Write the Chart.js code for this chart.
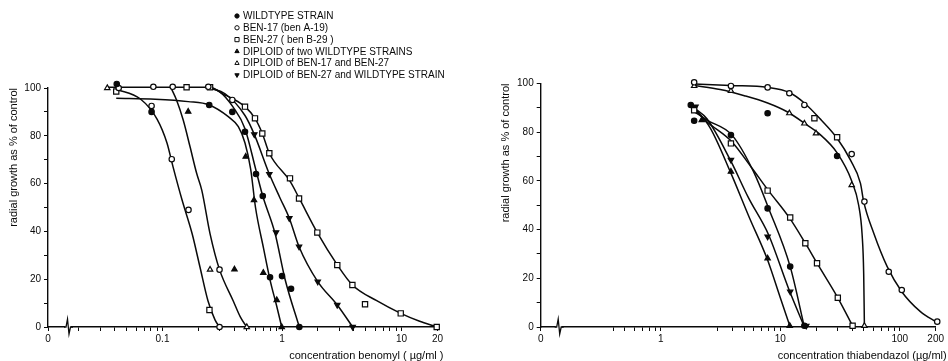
<!DOCTYPE html>
<html lang="en">
<head>
<meta charset="UTF-8">
<title>Radial growth on benomyl and thiabendazol</title>
<script src="https://cdn.jsdelivr.net/npm/chart.js@4"></script>
<style>
  body { margin: 0; background: #fff; }
  canvas { position: absolute; top: 0; }
  #benomylChart { left: 0; }
  #thiabendazolChart { left: 474px; }
</style>
</head>
<body>
<canvas id="benomylChart" width="474" height="361"></canvas>
<canvas id="thiabendazolChart" width="474" height="361"></canvas>
<script>
// strains, in key order
const strainLabels = [
  "WILDTYPE STRAIN",
  "BEN-17 (ben A-19)",
  "BEN-27 ( ben B-29 )",
  "DIPLOID of two WILDTYPE STRAINS",
  "DIPLOID of BEN-17 and BEN-27",
  "DIPLOID of BEN-27 and WILDTYPE STRAIN",
];

// benomyl, measured points: [µg/ml, radial growth % of control]
const benWildtype = [[0.0414, 101.7], [0.081, 90], [0.246, 92.9], [0.384, 90], [0.49, 81.7], [0.606, 64], [0.69, 54.8], [0.794, 20.8], [1.0, 21.3], [1.19, 16], [1.396, 0]];
const benBen17 = [[0.043, 100], [0.081, 92.5], [0.0838, 100.5], [0.1195, 70.2], [0.1217, 100.5], [0.165, 49], [0.2416, 100.5], [0.30, 24], [0.30, 0], [0.384, 95]];
const benBen27 = [[0.041, 98.5], [0.159, 100.3], [0.247, 7.1], [0.25, 100.3], [0.49, 92.2], [0.594, 87.3], [0.684, 81], [0.783, 72.7], [1.166, 62.2], [1.388, 53.8], [1.974, 39.5], [2.9, 25.9], [3.88, 17.6], [4.95, 9.5], [9.85, 5.7], [19.7, 0]];
const benDiploidWild = [[0.164, 90.1], [0.40, 24.1], [0.497, 71.3], [0.583, 53.1], [0.697, 22.7], [0.903, 11.3], [0.994, 0]];
const benDiploid1727 = [[0.0345, 100], [0.25, 24], [0.507, 0]];
const benDiploid27Wild = [[0.586, 80.6], [0.783, 64], [0.891, 39.6], [1.151, 45.5], [1.388, 33.6], [1.99, 19], [2.9, 9.2], [3.9, 0]];

// benomyl, hand-drawn curves
const benCurveWildtype = [[0.25, 100], [0.3, 98.5], [0.39, 92], [0.49, 83], [0.606, 65.5], [0.69, 54.8], [0.874, 39.2], [1.06, 20], [1.396, 0]];
const benCurveBen17 = [[0.041, 99.5], [0.065, 95.5], [0.09, 87], [0.109, 77], [0.1225, 67], [0.146, 53], [0.177, 39], [0.206, 25], [0.24, 11], [0.275, 3], [0.30, 0]];
const benCurveBen27 = [[0.035, 100.3], [0.25, 100.3], [0.32, 97.5], [0.38, 95.7], [0.49, 92.2], [0.594, 87.3], [0.684, 81], [0.783, 72.7], [1.166, 61], [1.388, 54], [1.974, 39.5], [2.9, 26], [3.88, 17.6], [6.2, 11], [9.85, 5.7], [14, 2.5], [19.7, 0]];
const benCurveDiploidWild = [[0.041, 95.7], [0.087, 95.3], [0.164, 94.3], [0.246, 92.9], [0.355, 88], [0.431, 83.8], [0.49, 77], [0.547, 66], [0.6, 50], [0.7, 33], [0.8, 19], [0.9, 9], [0.994, 0]];
const benCurveDiploid1727 = [[0.118, 100], [0.131, 95], [0.149, 86.6], [0.17, 75.4], [0.193, 64.3], [0.213, 57.3], [0.25, 39], [0.30, 24], [0.39, 11], [0.45, 4], [0.507, 0]];
const benCurveDiploid27Wild = [[0.25, 100], [0.334, 97.6], [0.49, 88.5], [0.586, 80.6], [0.783, 64], [0.962, 54], [1.151, 45.5], [1.388, 33.6], [1.99, 19], [2.9, 9.2], [3.9, 0]];

// thiabendazol, measured points
const thiWildtype = [[1.78, 91.2], [1.9, 84.7], [3.86, 78.8], [7.83, 87.8], [7.83, 48.7], [12.1, 24.8], [15.9, 0.5], [29.9, 70.2]];
const thiBen17 = [[1.9, 100.5], [3.86, 99], [7.83, 98.4], [11.9, 96], [15.9, 91.2], [39.6, 71], [50.6, 51.5], [80.9, 22.7], [104, 15.2], [206, 2.2]];
const thiBen27 = [[1.9, 89], [3.86, 75.4], [7.83, 56], [12.1, 45], [16.2, 34.4], [19.3, 85.7], [20.3, 26.2], [29.9, 77.9], [30.3, 12], [40.3, 0.5]];
const thiDiploidWild = [[2.2, 85], [3.86, 63.8], [7.83, 28.2], [12, 0.5]];
const thiDiploid1727 = [[1.9, 99], [3.86, 97], [11.9, 87.8], [15.9, 83.6], [19.9, 79.5], [39.6, 58.3], [50.6, 0.5]];
const thiDiploid27Wild = [[1.95, 90.5], [3.86, 68.6], [7.83, 37.1], [12.1, 14.5], [16.5, 0.5]];

// thiabendazol, hand-drawn curves
const thiCurveWildtype = [[1.9, 88.5], [2.43, 85], [3.94, 78.8], [5.97, 63.8], [7.99, 48.7], [12.1, 24.8], [15.9, 0]];
const thiCurveBen17 = [[1.9, 99.8], [3.86, 99.2], [7.83, 98.4], [11.9, 96.3], [15.9, 92], [22, 85], [29.9, 77.5], [38.6, 68.6], [46.9, 59], [49.9, 51.5], [60.6, 38.5], [78.5, 24.8], [104, 14.5], [149, 6.3], [206, 1.8]];
const thiCurveBen27 = [[1.9, 89.5], [2.43, 84.3], [3.94, 76], [5.8, 65.2], [7.99, 55.9], [11.9, 44.9], [16.2, 34.4], [20.3, 26.2], [30.3, 12], [40.3, 0.5]];
const thiCurveDiploidWild = [[1.9, 90], [2.6, 81.6], [3.81, 63.8], [5.5, 45], [7.73, 28.2], [10, 12], [12.1, 0]];
const thiCurveDiploid1727 = [[1.9, 99.2], [3.14, 97.5], [5, 95], [7.83, 92], [11.4, 88.4], [16.7, 83], [21, 79.5], [29.9, 71.5], [39.6, 60], [45.3, 50], [48.4, 38], [49.9, 22], [50.6, 0]];
const thiCurveDiploid27Wild = [[1.9, 90], [2.43, 85.5], [3.81, 68.6], [5.42, 53], [7.99, 37.8], [11.7, 15.9], [15.9, 0]];

// log axes: tick marks and labelled ticks ("0" sits at the axis break)
const benTicks = [0.02, 0.03, 0.04, 0.05, 0.06, 0.07, 0.08, 0.09, 0.1, 0.2, 0.3, 0.4, 0.5, 0.6, 0.7, 0.8, 0.9, 1, 2, 3, 4, 5, 6, 7, 8, 9, 10, 20];
const benLabelValues = [0.1, 1, 10, 20];
const benLabelTexts = ["0.1", "1", "10", "20"];
const thiTicks = [0.4, 0.5, 0.6, 0.7, 0.8, 0.9, 1, 3, 4, 5, 6, 7, 8, 9, 10, 20, 30, 40, 50, 60, 70, 80, 90, 100, 200];
const thiLabelValues = [1, 10, 100, 200];
const thiLabelTexts = ["1", "10", "100", "200"];

const BLACK = "#0a0a0a";
const FONT = "'Liberation Sans', Arial, sans-serif";
Chart.defaults.font.family = FONT;
Chart.defaults.color = BLACK;

// marker look per strain, same order as strainLabels
const markerLook = [
  { style: "circle", fill: BLACK, r: 2.7, rot: 0 },
  { style: "circle", fill: "#fff", r: 2.7, rot: 0 },
  { style: "rect", fill: "#fff", r: 3.7, rot: 0 },
  { style: "triangle", fill: BLACK, r: 3.1, rot: 0 },
  { style: "triangle", fill: "#fff", r: 3.1, rot: 0 },
  { style: "triangle", fill: BLACK, r: 3.1, rot: 180 },
];

const toXY = pairs => pairs.map(([x, y]) => ({ x, y }));

function curveSet(pairs) {
  return {
    data: toXY(pairs),
    borderColor: BLACK,
    borderWidth: 1.5,
    pointRadius: 0,
    cubicInterpolationMode: "monotone",
    fill: false,
    clip: false,
    order: 1,
  };
}

function markerSet(pairs, i) {
  const m = markerLook[i];
  return {
    label: strainLabels[i],
    data: toXY(pairs),
    showLine: false,
    pointStyle: m.style,
    pointRotation: m.rot,
    pointRadius: m.r,
    pointBackgroundColor: m.fill,
    pointBorderColor: BLACK,
    pointBorderWidth: 1.2,
    clip: false,
    order: 0,
  };
}

// axis break squiggle, x-axis title and (left panel only) the strain key
const panelDecor = {
  id: "panelDecor",
  afterDraw(chart, args, opts) {
    const { ctx, chartArea } = chart;
    const y = chartArea.bottom;
    const bx = chartArea.left + opts.breakOffset;
    ctx.save();
    ctx.fillStyle = "#fff";
    ctx.fillRect(bx - 3, y - 2, 6, 4);
    ctx.strokeStyle = BLACK;
    ctx.lineWidth = 1.3;
    ctx.beginPath();
    ctx.moveTo(bx - 4, y);
    ctx.lineTo(bx - 2, y);
    ctx.lineTo(bx - 0.5, y - 8);
    ctx.lineTo(bx + 1, y + 7);
    ctx.lineTo(bx + 2.5, y);
    ctx.lineTo(bx + 5, y);
    ctx.stroke();

    ctx.fillStyle = BLACK;
    ctx.font = "11px " + FONT;
    ctx.textAlign = "right";
    ctx.textBaseline = "middle";
    ctx.fillText(opts.title, chartArea.right + opts.titleShift, chart.height - 5);

    if (opts.key) {
      ctx.font = "10px " + FONT;
      ctx.textAlign = "left";
      const sets = chart.data.datasets.filter(d => d.label);
      sets.forEach((d, i) => {
        const ky = opts.key.top + i * opts.key.gap;
        ctx.fillStyle = d.pointBackgroundColor;
        ctx.strokeStyle = BLACK;
        ctx.lineWidth = 1;
        Chart.helpers.drawPoint(ctx, {
          pointStyle: d.pointStyle,
          rotation: d.pointRotation,
          radius: d.pointRadius * 0.8,
          borderWidth: 1,
        }, opts.key.left, ky);
        ctx.fillStyle = BLACK;
        ctx.fillText(d.label, opts.key.left + 6, ky + 0.5);
      });
    }
    ctx.restore();
  },
};

function makeScales(xMin, xMax, ticks, labelValues, labelTexts) {
  return {
    x: {
      type: "logarithmic",
      min: xMin,
      max: xMax,
      afterBuildTicks: s => { s.ticks = [xMin, ...ticks].map(v => ({ value: v })); },
      afterFit: s => { s.height = 34; },
      ticks: {
        autoSkip: false,
        maxRotation: 0,
        padding: 2,
        color: BLACK,
        font: { size: 10 },
        callback: v => {
          if (v === xMin) return "0";
          const k = labelValues.indexOf(v);
          return k >= 0 ? labelTexts[k] : "";
        },
      },
      grid: { drawOnChartArea: false, tickLength: 4, color: BLACK, tickColor: BLACK, tickWidth: 1 },
      border: { color: BLACK, width: 1.4 },
    },
    y: {
      min: 0,
      max: 100,
      afterFit: s => { s.width = 48; },
      ticks: {
        stepSize: 10,
        autoSkip: false,
        padding: 3,
        color: BLACK,
        font: { size: 10 },
        callback: v => (v % 20 === 0 ? v : ""),
      },
      grid: { drawOnChartArea: false, tickLength: 4, color: BLACK, tickColor: BLACK, tickWidth: 1 },
      border: { color: BLACK, width: 1.4 },
      title: {
        display: true,
        text: "radial growth as % of control",
        align: "end",
        color: BLACK,
        font: { size: 11 },
        padding: { top: 7, bottom: 0 },
      },
    },
  };
}

function makeChart(id, markers, curves, axis, decor, padding) {
  return new Chart(document.getElementById(id), {
    type: "line",
    data: {
      datasets: [
        ...markers.map((pairs, i) => markerSet(pairs, i)),
        ...curves.map(curveSet),
      ],
    },
    options: {
      responsive: false,
      animation: false,
      devicePixelRatio: 1,
      layout: { padding },
      scales: makeScales(...axis),
      plugins: {
        legend: { display: false },
        tooltip: { enabled: false },
        panelDecor: decor,
      },
    },
    plugins: [panelDecor],
  });
}

makeChart(
  "benomylChart",
  [benWildtype, benBen17, benBen27, benDiploidWild, benDiploid1727, benDiploid27Wild],
  [benCurveWildtype, benCurveBen17, benCurveBen27, benCurveDiploidWild, benCurveDiploid1727, benCurveDiploid27Wild],
  [0.01101, 20, benTicks, benLabelValues, benLabelTexts],
  {
    breakOffset: 20,
    title: "concentration benomyl ( µg/ml )",
    titleShift: 6,
    key: { left: 237, top: 16, gap: 11.8 },
  },
  { left: 0, right: 36.5, top: 88, bottom: 0 }
);

makeChart(
  "thiabendazolChart",
  [thiWildtype, thiBen17, thiBen27, thiDiploidWild, thiDiploid1727, thiDiploid27Wild],
  [thiCurveWildtype, thiCurveBen17, thiCurveBen27, thiCurveDiploidWild, thiCurveDiploid1727, thiCurveDiploid27Wild],
  [0.0986, 200, thiTicks, thiLabelValues, thiLabelTexts],
  {
    breakOffset: 18,
    title: "concentration thiabendazol (µg/ml)",
    titleShift: 11,
    key: null,
  },
  { left: 18.7, right: 12.3, top: 83.5, bottom: 0 }
);
</script>
</body>
</html>
